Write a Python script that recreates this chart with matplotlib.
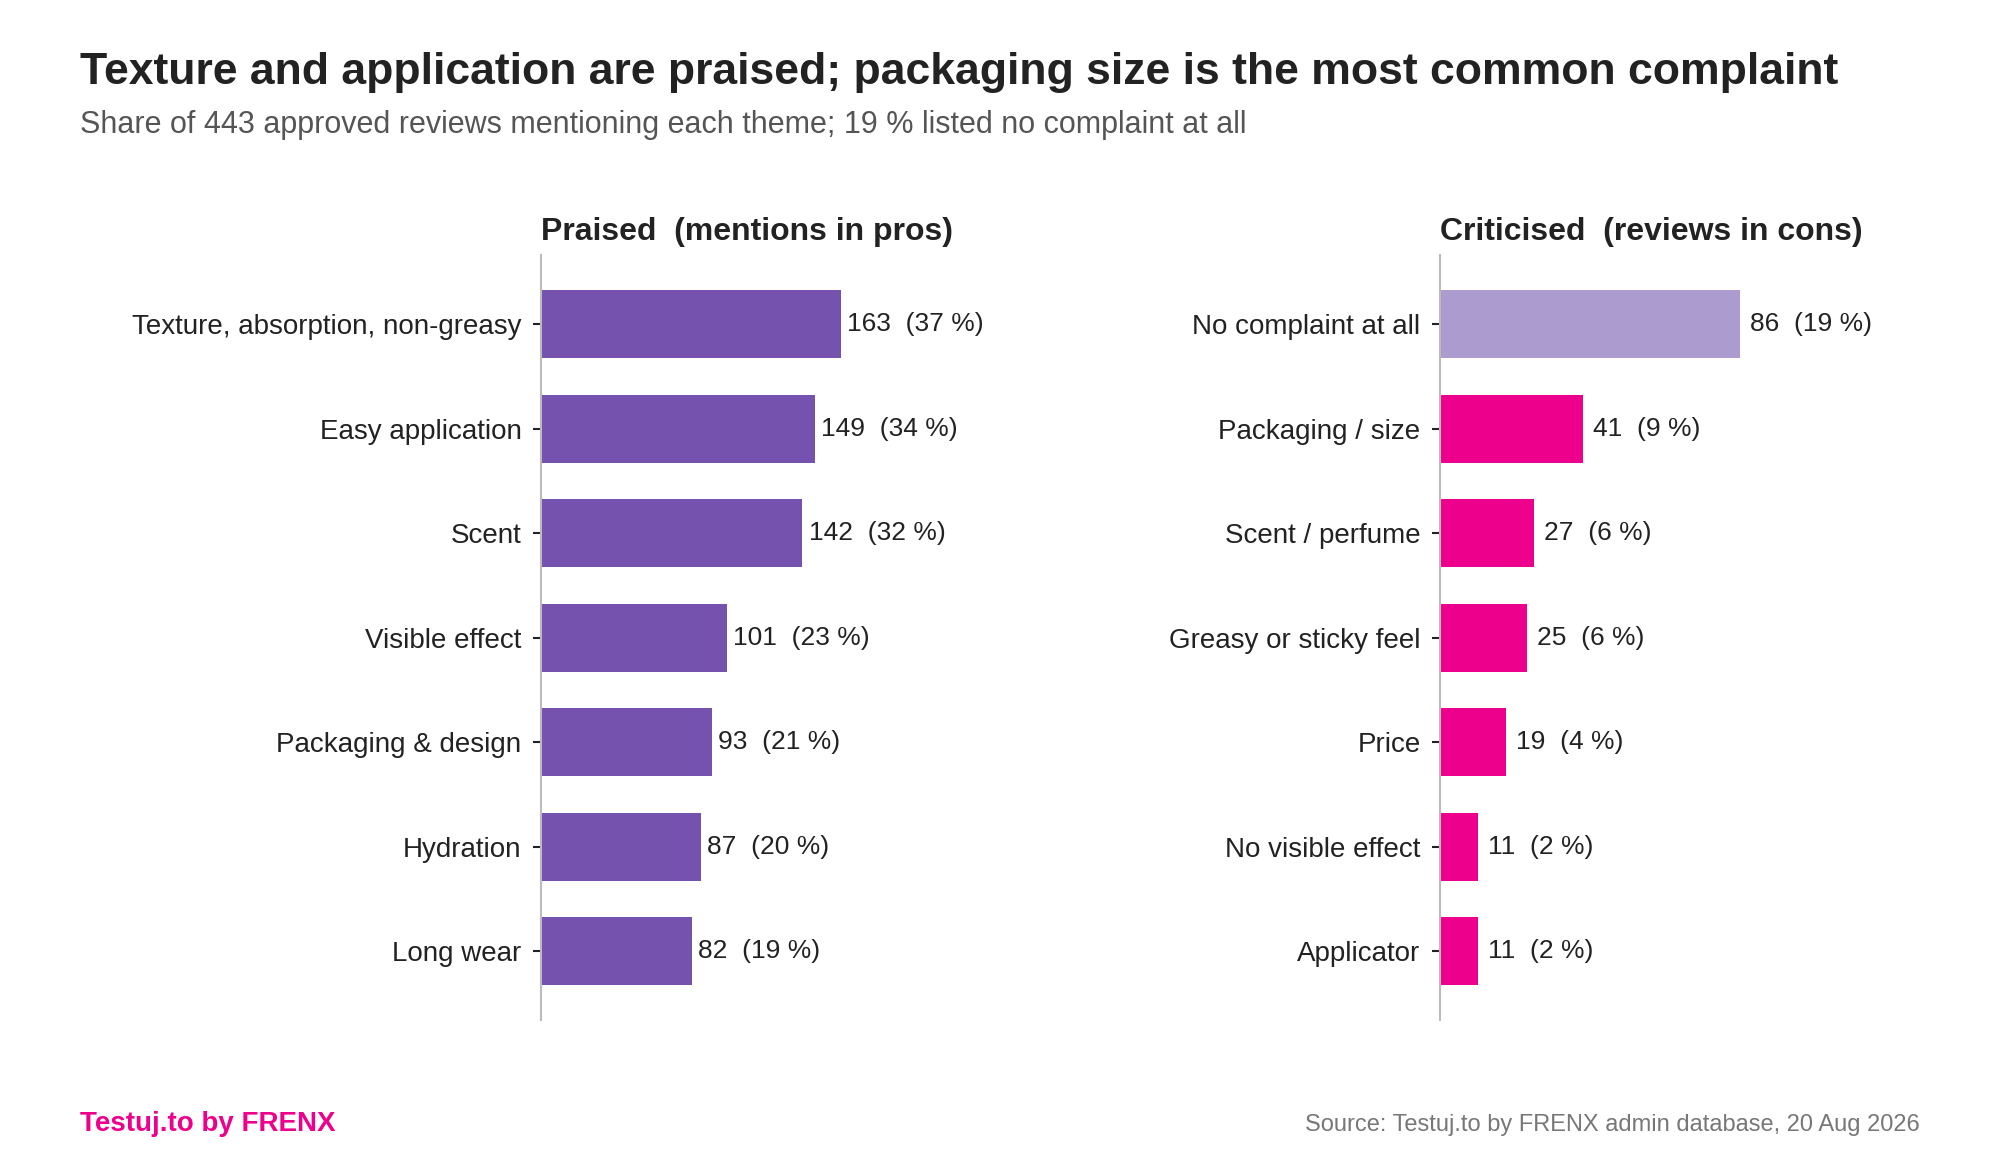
import matplotlib
matplotlib.use("Agg")
import matplotlib.pyplot as plt

plt.rcParams['font.family'] = ['Liberation Sans', 'DejaVu Sans']

title = "Texture and application are praised; packaging size is the most common complaint"
subtitle = "Share of 443 approved reviews mentioning each theme; 19 % listed no complaint at all"

pros_labels = ["Texture, absorption, non-greasy", "Easy application", "Scent",
               "Visible effect", "Packaging & design", "Hydration", "Long wear"]
pros_counts = [163, 149, 142, 101, 93, 87, 82]
pros_pct = [37, 34, 32, 23, 21, 20, 19]

cons_labels = ["No complaint at all", "Packaging / size", "Scent / perfume",
               "Greasy or sticky feel", "Price", "No visible effect", "Applicator"]
cons_counts = [86, 41, 27, 25, 19, 11, 11]
cons_pct = [19, 9, 6, 6, 4, 2, 2]

PURPLE = "#7552ae"
LIGHT_PURPLE = "#ac9bcf"
PINK = "#ec008c"
DARK = "#222222"

fig = plt.figure(figsize=(20, 11.6), dpi=100)
fig.patch.set_facecolor("white")

ax1 = fig.add_axes([0.2705, 0.1204, 0.24, 0.6596])
ax2 = fig.add_axes([0.7200, 0.1204, 0.24, 0.6596])

def panel(ax, labels, counts, pct, colors, head, pad_pts):
    y = list(range(len(labels)))
    ax.barh(y, counts, height=0.65, color=colors)
    ax.set_yticks(y)
    ax.set_yticklabels(labels, fontsize=20, color=DARK)
    ax.set_ylim(len(labels) - 1 + 0.66, -0.66)
    ax.set_xlim(0, max(counts) * 1.6)
    ax.set_xticks([])
    for s in ["top", "right", "bottom"]:
        ax.spines[s].set_visible(False)
    ax.spines["left"].set_color("#bbbbbb")
    ax.spines["left"].set_linewidth(1.5)
    ax.tick_params(axis="y", length=6, width=1.5, color=DARK, pad=8)
    for yi, c, p in zip(y, counts, pct):
        ax.annotate(f"{c}  ({p} %)", xy=(c, yi), xytext=(pad_pts, 0),
                    textcoords="offset points", va="center", ha="left",
                    fontsize=19, color=DARK)
    ax.text(0, 1.02, head, transform=ax.transAxes, ha="left", va="baseline",
            fontsize=23, fontweight="bold", color=DARK)

panel(ax1, pros_labels, pros_counts, pros_pct, [PURPLE] * len(pros_counts),
      "Praised  (mentions in pros)", 4.5)
panel(ax2, cons_labels, cons_counts, cons_pct,
      [LIGHT_PURPLE] + [PINK] * (len(cons_counts) - 1),
      "Criticised  (reviews in cons)", 7)

fig.text(0.0402, 0.9274, title, ha="left", va="baseline", fontsize=32,
         fontweight="bold", color=DARK)
fig.text(0.0402, 0.8857, subtitle, ha="left", va="baseline", fontsize=22,
         color="#555555")
fig.text(0.0402, 0.0247, "Testuj.to by FRENX", ha="left", va="baseline",
         fontsize=20, fontweight="bold", color=PINK)
fig.text(0.9598, 0.0247, "Source: Testuj.to by FRENX admin database, 20 Aug 2026",
         ha="right", va="baseline", fontsize=17, color="#777777")

fig.savefig("out.png", dpi=100, facecolor="white")
